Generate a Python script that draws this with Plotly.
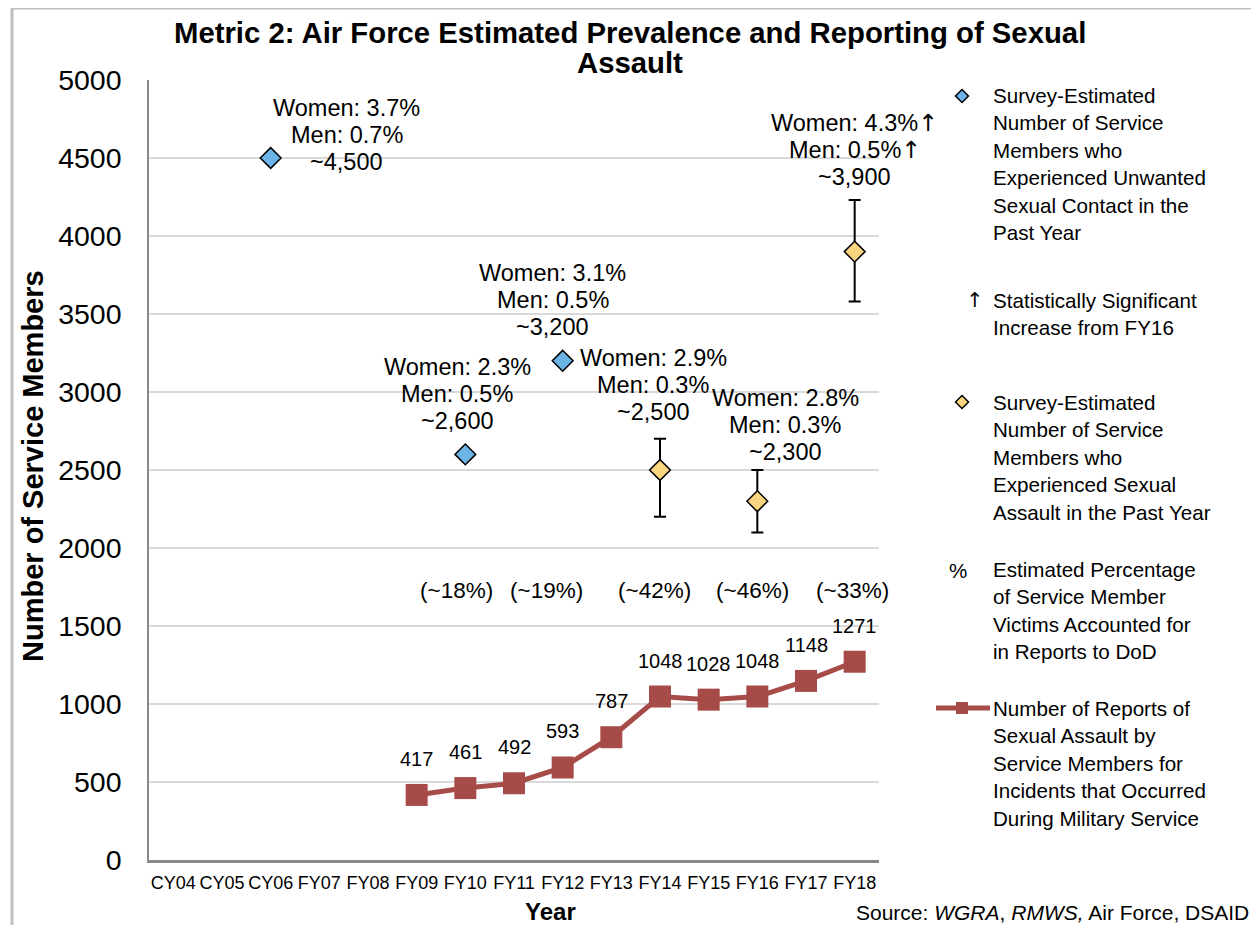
import plotly.graph_objects as go

# ---------------- data ----------------
categories = ["CY04", "CY05", "CY06", "FY07", "FY08", "FY09", "FY10", "FY11",
              "FY12", "FY13", "FY14", "FY15", "FY16", "FY17", "FY18"]

ARROW = "<span style='font-family:DejaVu Sans'>↑</span>"

usc_years = ["CY06", "FY10", "FY12"]
usc_values = [4500, 2600, 3200]
usc_labels = [["Women: 3.7%", "Men: 0.7%", "~4,500"],
              ["Women: 2.3%", "Men: 0.5%", "~2,600"],
              ["Women: 3.1%", "Men: 0.5%", "~3,200"]]

sa_years = ["FY14", "FY16", "FY18"]
sa_values = [2500, 2300, 3900]
sa_err_plus = [200, 200, 330]
sa_err_minus = [300, 200, 320]
sa_labels = [["Women: 2.9%", "Men: 0.3%", "~2,500"],
             ["Women: 2.8%", "Men: 0.3%", "~2,300"],
             ["Women: 4.3%" + ARROW, "Men: 0.5%" + ARROW, "~3,900"]]

rep_years = ["FY09", "FY10", "FY11", "FY12", "FY13", "FY14", "FY15", "FY16", "FY17", "FY18"]
rep_values = [417, 461, 492, 593, 787, 1048, 1028, 1048, 1148, 1271]

pct_years = ["FY10", "FY12", "FY14", "FY16", "FY18"]
pct_labels = ["(~18%)", "(~19%)", "(~42%)", "(~46%)", "(~33%)"]
pct_level = 1730

title_lines = ["Metric 2: Air Force Estimated Prevalence and Reporting of Sexual", "Assault"]
legend_texts = [
    ["Survey-Estimated", "Number of Service", "Members who", "Experienced Unwanted",
     "Sexual Contact in the", "Past Year"],
    ["Statistically Significant", "Increase from FY16"],
    ["Survey-Estimated", "Number of Service", "Members who", "Experienced Sexual",
     "Assault in the Past Year"],
    ["Estimated Percentage", "of Service Member", "Victims Accounted for", "in Reports to DoD"],
    ["Number of Reports of", "Sexual Assault by", "Service Members for",
     "Incidents that Occurred", "During Military Service"],
]

# ---------------- style ----------------
FONT = "Liberation Sans, Arial, sans-serif"
BLUE = "#6CB4E6"
YELLOW = "#F9D57F"
RED = "#A64B47"
OFF = 8                      # page body margin
W, H = 1259 - OFF, 925 - OFF
L, R, T, B = 149, 879, 80, 860  # plot area in screen pixels


def px(x):
    return (x - L) / (R - L)


def py(y):
    return (B - y) / (B - T)


fig = go.Figure()

fig.add_trace(go.Scatter(
    x=rep_years, y=rep_values, mode="lines+markers",
    line=dict(color=RED, width=5),
    marker=dict(symbol="square", size=22, color=RED),
    showlegend=False, hoverinfo="x+y"))

fig.add_trace(go.Scatter(
    x=usc_years, y=usc_values, mode="markers",
    marker=dict(symbol="diamond", size=16, color=BLUE, line=dict(color="black", width=1.5)),
    showlegend=False))

fig.add_trace(go.Scatter(
    x=sa_years, y=sa_values, mode="markers",
    error_y=dict(type="data", symmetric=False, array=sa_err_plus, arrayminus=sa_err_minus,
                 color="black", thickness=2, width=6),
    marker=dict(symbol="diamond", size=16, color=YELLOW, line=dict(color="black", width=1.5)),
    showlegend=False))

annotations = []


def data_lines(xv, yv, lines, dx, dy, lh, font):
    for i, t in enumerate(lines):
        annotations.append(dict(x=xv, y=yv, text=t, showarrow=False, xshift=dx,
                                yshift=dy - i * lh, xanchor="center", yanchor="middle",
                                font=font))


def paper_lines(xs, ys_first, lines, lh, font, xanchor="left"):
    for i, t in enumerate(lines):
        annotations.append(dict(xref="paper", yref="paper", x=px(xs), y=py(ys_first + i * lh),
                                text=t, showarrow=False, xanchor=xanchor, yanchor="middle",
                                font=font))


lab_font = dict(family=FONT, size=23.5, color="black")
usc_shift = [(76, 50), (-8, 87), (-10, 88)]
for xv, yv, t, (dx, dy) in zip(usc_years, usc_values, usc_labels, usc_shift):
    data_lines(xv, yv, t, dx, dy, 27, lab_font)

sa_shift = [(-7, 112), (28, 103), (0, 129)]
for xv, yv, t, (dx, dy) in zip(sa_years, sa_values, sa_labels, sa_shift):
    data_lines(xv, yv, t, dx, dy, 27, lab_font)

for xv, yv in zip(rep_years, rep_values):
    annotations.append(dict(x=xv, y=yv, text=str(yv), showarrow=False, yshift=36,
                            xanchor="center", yanchor="middle",
                            font=dict(family=FONT, size=20, color="black")))

pct_shift = [-9, -16, -6, -5, -2]
for xv, t, dx in zip(pct_years, pct_labels, pct_shift):
    annotations.append(dict(x=xv, y=pct_level, text=t, showarrow=False, xshift=dx,
                            xanchor="center", yanchor="middle",
                            font=dict(family=FONT, size=22.5, color="black")))

# title
paper_lines(630, 32, [f"<b>{t}</b>" for t in title_lines], 30,
            dict(family=FONT, size=29.3, color="black"), xanchor="center")
# axis titles
annotations.append(dict(xref="paper", yref="paper", x=px(33), y=py(466),
                        text="<b>Number of Service Members</b>", textangle=-90,
                        showarrow=False, xanchor="center", yanchor="middle",
                        font=dict(family=FONT, size=29, color="black")))
annotations.append(dict(xref="paper", yref="paper", x=px(550), y=py(911),
                        text="<b>Year</b>", showarrow=False, xanchor="center", yanchor="middle",
                        font=dict(family=FONT, size=24, color="black")))
annotations.append(dict(xref="paper", yref="paper", x=px(1251), y=py(912),
                        text="Source: <i>WGRA</i>, <i>RMWS,</i> Air Force, DSAID",
                        showarrow=False, xanchor="right", yanchor="middle",
                        font=dict(family=FONT, size=21, color="black")))

# legend
leg_font = dict(family=FONT, size=20.6, color="black")
leg_first = [95, 300, 402, 569, 708]
for lines, y0 in zip(legend_texts, leg_first):
    paper_lines(991, y0, lines, 27.6, leg_font)
annotations.append(dict(xref="paper", yref="paper", x=px(975), y=py(300), text=ARROW,
                        showarrow=False, xanchor="center", yanchor="middle", font=leg_font))
annotations.append(dict(xref="paper", yref="paper", x=px(958), y=py(570), text="%",
                        showarrow=False, xanchor="center", yanchor="middle", font=leg_font))

shapes = []


def diamond(cx, cy, r, fill):
    path = (f"M {px(cx - r)} {py(cy)} L {px(cx)} {py(cy - r)} L {px(cx + r)} {py(cy)} "
            f"L {px(cx)} {py(cy + r)} Z")
    return dict(type="path", xref="paper", yref="paper", path=path,
                fillcolor=fill, line=dict(color="black", width=1.5))


shapes.append(diamond(962, 96, 6.5, BLUE))
shapes.append(diamond(962, 402, 6.5, YELLOW))
shapes.append(dict(type="line", xref="paper", yref="paper", x0=px(936), x1=px(990),
                   y0=py(708), y1=py(708), line=dict(color=RED, width=5)))
shapes.append(dict(type="rect", xref="paper", yref="paper", x0=px(956), x1=px(968),
                   y0=py(702), y1=py(714), fillcolor=RED, line=dict(width=0)))
# outer frame
shapes.append(dict(type="rect", xref="paper", yref="paper", x0=px(12), x1=px(1256),
                   y0=py(940), y1=py(8), line=dict(color="#BFBFBF", width=3),
                   fillcolor="rgba(0,0,0,0)", layer="below"))

fig.update_layout(
    width=W, height=H,
    margin=dict(l=L - OFF, r=W - (R - OFF), t=T - OFF, b=H - (B - OFF), autoexpand=False),
    paper_bgcolor="white", plot_bgcolor="white",
    showlegend=False,
    font=dict(family=FONT, color="black"),
    annotations=annotations, shapes=shapes,
    xaxis=dict(type="category", categoryorder="array", categoryarray=categories,
               range=[-0.5, len(categories) - 0.5], tickangle=0,
               tickfont=dict(family=FONT, size=18, color="black"),
               showline=True, linecolor="#888888", linewidth=3, showgrid=False,
               ticks="", ticklabelstandoff=4, fixedrange=True),
    yaxis=dict(range=[0, 5000], dtick=500, tickformat="d",
               tickfont=dict(family=FONT, size=28.5, color="black"),
               showline=True, linecolor="#888888", linewidth=1.5,
               showgrid=True, gridcolor="#D9D9D9", gridwidth=2,
               zeroline=False, ticks="", ticklabelstandoff=20, fixedrange=True),
)

fig.write_html("out.html")
